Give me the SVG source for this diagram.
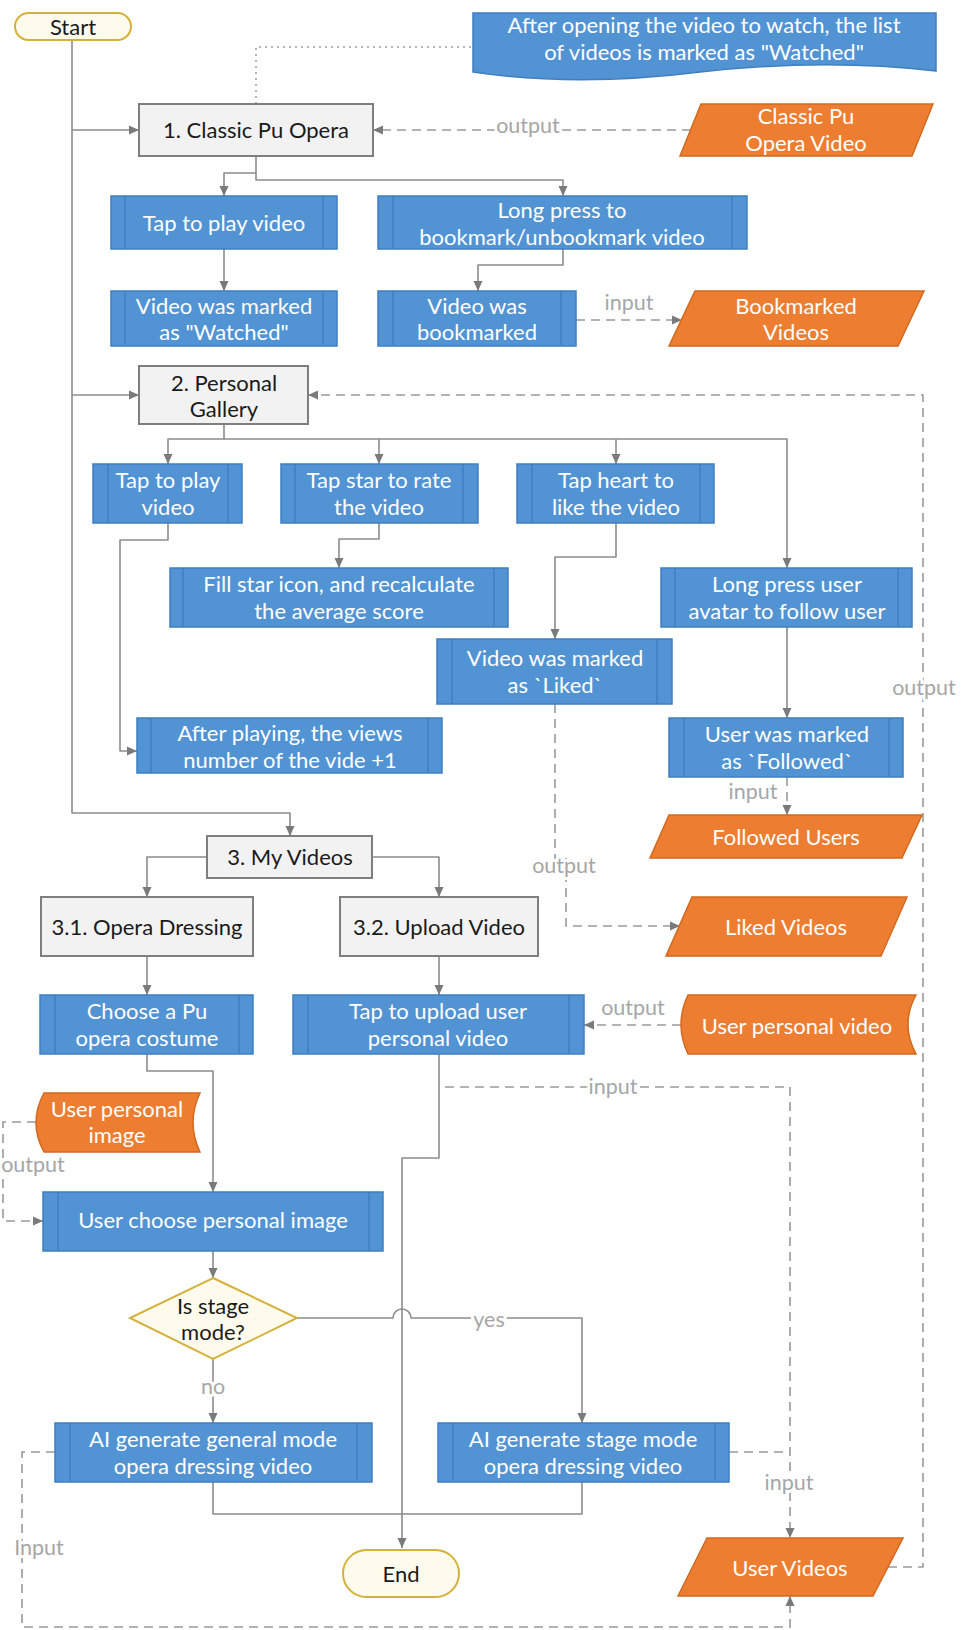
<svg xmlns="http://www.w3.org/2000/svg" width="968" height="1630" viewBox="0 0 968 1630">
<defs>
<style>
text{font-family:Lato,"Liberation Sans",sans-serif;font-size:22px;text-anchor:middle;dominant-baseline:central}
.w{fill:#ffffff}
.k{fill:#1a1a1a}
.lbl{fill:#a6a6a6;font-size:21.5px;stroke:#ffffff;stroke-width:6px;paint-order:stroke;stroke-linejoin:round}
.proc{fill:#5293d4;stroke:#3f7fc0;stroke-width:1.5}
.sub{stroke:#3f7fc0;stroke-width:1.5}
.gray{fill:#f2f2f2;stroke:#7f7f7f;stroke-width:2}
.data{fill:#ed7d31;stroke:#d2691f;stroke-width:1.5}
.term{fill:#fffbec;stroke:#d4b13c;stroke-width:2}
.c{fill:none;stroke:#8c8c8c;stroke-width:1.6;stroke-linejoin:round}
.d{fill:none;stroke:#9a9a9a;stroke-width:1.6;stroke-dasharray:9 6}
.dot{fill:none;stroke:#a0a0a0;stroke-width:1.6;stroke-dasharray:2 4}
</style>
<marker id="a" viewBox="0 0 10 10" refX="10" refY="5" markerWidth="10" markerHeight="10" markerUnits="userSpaceOnUse" orient="auto">
<path d="M0,0.5 L10,5 L0,9.5 Z" fill="#7a7a7a"/>
</marker>
</defs>
<rect width="968" height="1630" fill="#ffffff"/>

<g id="connectors">
<path class="dot" d="M256,104 V47 H473"/>
<path class="c" d="M72,40 V813 H290 V836" marker-end="url(#a)"/>
<path class="c" d="M72,130 H139" marker-end="url(#a)"/>
<path class="c" d="M72,395 H139" marker-end="url(#a)"/>
<path class="c" d="M256,156 V173 H224 V196" marker-end="url(#a)"/>
<path class="c" d="M256,173 V180 H563 V196" marker-end="url(#a)"/>
<path class="c" d="M224,249 V291" marker-end="url(#a)"/>
<path class="c" d="M563,249 V265 H478 V291" marker-end="url(#a)"/>
<path class="c" d="M224,424 V439 H168 V464" marker-end="url(#a)"/>
<path class="c" d="M224,439 H787 V568" marker-end="url(#a)"/>
<path class="c" d="M379,439 V464" marker-end="url(#a)"/>
<path class="c" d="M616,439 V464" marker-end="url(#a)"/>
<path class="c" d="M379,523 V539 H339 V568" marker-end="url(#a)"/>
<path class="c" d="M168,523 V540 H120 V751 H137" marker-end="url(#a)"/>
<path class="c" d="M616,523 V557 H555 V639" marker-end="url(#a)"/>
<path class="c" d="M787,627 V718" marker-end="url(#a)"/>
<path class="c" d="M207,857 H147 V897" marker-end="url(#a)"/>
<path class="c" d="M372,857 H439 V897" marker-end="url(#a)"/>
<path class="c" d="M147,956 V995" marker-end="url(#a)"/>
<path class="c" d="M439,956 V995" marker-end="url(#a)"/>
<path class="c" d="M147,1054 V1071 H213 V1192" marker-end="url(#a)"/>
<path class="c" d="M439,1054 V1158 H402 V1548" marker-end="url(#a)"/>
<path class="c" d="M213,1251 V1278" marker-end="url(#a)"/>
<path class="c" d="M213,1359 V1423" marker-end="url(#a)"/>
<path class="c" d="M297,1318 H393 A9,9 0 0 1 411,1318 H582 V1423" marker-end="url(#a)"/>
<path class="c" d="M213,1482 V1514 H582 V1482"/>

<path class="d" d="M691,130 H373" marker-end="url(#a)"/>
<path class="d" d="M576,320 H682" marker-end="url(#a)"/>
<path class="d" d="M787,777 V815" marker-end="url(#a)"/>
<path class="d" d="M555,704 V858 H566 V926 H680" marker-end="url(#a)"/>
<path class="d" d="M681,1025 H584" marker-end="url(#a)"/>
<path class="d" d="M445,1087 H790 V1538" marker-end="url(#a)"/>
<path class="d" d="M729,1452 H790"/>
<path class="d" d="M55,1452 H22 V1627 H790 V1596" marker-end="url(#a)"/>
<path class="d" d="M888,1567 H923 V395 H308" marker-end="url(#a)"/>
<path class="d" d="M36,1122 H3 V1221 H43" marker-end="url(#a)"/>

<text class="lbl" x="528" y="125">output</text>
<text class="lbl" x="629" y="302">input</text>
<text class="lbl" x="924" y="687">output</text>
<text class="lbl" x="753" y="791">input</text>
<text class="lbl" x="564" y="865">output</text>
<text class="lbl" x="633" y="1007">output</text>
<text class="lbl" x="613" y="1086">input</text>
<text class="lbl" x="33" y="1164">output</text>
<text class="lbl" x="489" y="1319">yes</text>
<text class="lbl" x="213" y="1386">no</text>
<text class="lbl" x="789" y="1482">input</text>
<text class="lbl" x="39" y="1547">Input</text>
</g>

<g id="start"><rect class="term" x="15" y="13" width="116" height="27" rx="13.5"/><text class="k" x="73" y="26">Start</text></g>

<g id="note"><path fill="#5293d4" stroke="#3f7fc0" stroke-width="1.5" d="M473,13 H936 V71 C860,62 780,63 700,72 C620,82 540,82 473,72 Z"/>
<text class="w"><tspan x="704" y="24">After opening the video to watch, the list</tspan><tspan x="704" y="50.5">of videos is marked as "Watched"</tspan></text></g>

<g id="classic"><rect class="gray" x="139" y="104" width="234" height="52"/><text class="k" x="256" y="129">1. Classic Pu Opera</text></g>

<g id="classic-video"><polygon class="data" points="701,104 933,104 912,156 680,156"/><text class="w"><tspan x="806" y="115.25">Classic Pu</tspan><tspan x="806" y="141.75">Opera Video</tspan></text></g>

<g id="tap-play-1"><rect class="proc" x="111" y="196" width="226" height="53"/><line class="sub" x1="125" y1="196" x2="125" y2="249"/><line class="sub" x1="323" y1="196" x2="323" y2="249"/><text class="w" x="224" y="222">Tap to play video</text></g>

<g id="watched"><rect class="proc" x="111" y="291" width="226" height="55"/><line class="sub" x1="125" y1="291" x2="125" y2="346"/><line class="sub" x1="323" y1="291" x2="323" y2="346"/><text class="w"><tspan x="224" y="304.75">Video was marked</tspan><tspan x="224" y="331.25">as "Watched"</tspan></text></g>

<g id="long-press"><rect class="proc" x="378" y="196" width="369" height="53"/><line class="sub" x1="393" y1="196" x2="393" y2="249"/><line class="sub" x1="732" y1="196" x2="732" y2="249"/><text class="w"><tspan x="562" y="209">Long press to</tspan><tspan x="562" y="235.5">bookmark/unbookmark video</tspan></text></g>

<g id="bookmarked"><rect class="proc" x="378" y="291" width="198" height="55"/><line class="sub" x1="393" y1="291" x2="393" y2="346"/><line class="sub" x1="561" y1="291" x2="561" y2="346"/><text class="w"><tspan x="477" y="304.75">Video was</tspan><tspan x="477" y="331.25">bookmarked</tspan></text></g>

<g id="bookmarked-videos"><polygon class="data" points="695,291 924,291 898,346 669,346"/><text class="w"><tspan x="796" y="304.75">Bookmarked</tspan><tspan x="796" y="331.25">Videos</tspan></text></g>

<g id="gallery"><rect class="gray" x="139" y="366" width="169" height="58"/><text class="k"><tspan x="224" y="381.75">2. Personal</tspan><tspan x="224" y="408.25">Gallery</tspan></text></g>

<g id="tap-play-2"><rect class="proc" x="93" y="464" width="149" height="59"/><line class="sub" x1="108" y1="464" x2="108" y2="523"/><line class="sub" x1="228" y1="464" x2="228" y2="523"/><text class="w"><tspan x="168" y="479.25">Tap to play</tspan><tspan x="168" y="505.75">video</tspan></text></g>

<g id="tap-star"><rect class="proc" x="281" y="464" width="197" height="59"/><line class="sub" x1="295" y1="464" x2="295" y2="523"/><line class="sub" x1="463" y1="464" x2="463" y2="523"/><text class="w"><tspan x="379" y="479.25">Tap star to rate</tspan><tspan x="379" y="505.75">the video</tspan></text></g>

<g id="tap-heart"><rect class="proc" x="517" y="464" width="197" height="59"/><line class="sub" x1="532" y1="464" x2="532" y2="523"/><line class="sub" x1="700" y1="464" x2="700" y2="523"/><text class="w"><tspan x="616" y="479.25">Tap heart to</tspan><tspan x="616" y="505.75">like the video</tspan></text></g>

<g id="fill-star"><rect class="proc" x="170" y="568" width="338" height="59"/><line class="sub" x1="183" y1="568" x2="183" y2="627"/><line class="sub" x1="494" y1="568" x2="494" y2="627"/><text class="w"><tspan x="339" y="583.25">Fill star icon, and recalculate</tspan><tspan x="339" y="609.75">the average score</tspan></text></g>

<g id="long-press-user"><rect class="proc" x="661" y="568" width="251" height="59"/><line class="sub" x1="675" y1="568" x2="675" y2="627"/><line class="sub" x1="898" y1="568" x2="898" y2="627"/><text class="w"><tspan x="787" y="583.25">Long press user</tspan><tspan x="787" y="609.75">avatar to follow user</tspan></text></g>

<g id="liked"><rect class="proc" x="437" y="639" width="235" height="65"/><line class="sub" x1="452" y1="639" x2="452" y2="704"/><line class="sub" x1="657" y1="639" x2="657" y2="704"/><text class="w"><tspan x="555" y="657.25">Video was marked</tspan><tspan x="555" y="683.75">as `Liked`</tspan></text></g>

<g id="after-playing"><rect class="proc" x="137" y="718" width="305" height="55"/><line class="sub" x1="151" y1="718" x2="151" y2="773"/><line class="sub" x1="428" y1="718" x2="428" y2="773"/><text class="w"><tspan x="290" y="732.25">After playing, the views</tspan><tspan x="290" y="758.75">number of the vide +1</tspan></text></g>

<g id="followed"><rect class="proc" x="669" y="718" width="234" height="59"/><line class="sub" x1="684" y1="718" x2="684" y2="777"/><line class="sub" x1="889" y1="718" x2="889" y2="777"/><text class="w"><tspan x="787" y="733.25">User was marked</tspan><tspan x="787" y="759.75">as `Followed`</tspan></text></g>

<g id="followed-users"><polygon class="data" points="669,815 922,815 902,858 650,858"/><text class="w" x="786" y="836">Followed Users</text></g>

<g id="liked-videos"><polygon class="data" points="692,897 907,897 881,956 666,956"/><text class="w" x="786" y="926">Liked Videos</text></g>

<g id="my-videos"><rect class="gray" x="207" y="836" width="165" height="42"/><text class="k" x="290" y="856">3. My Videos</text></g>

<g id="opera-dressing"><rect class="gray" x="41" y="897" width="212" height="59"/><text class="k" x="147" y="926">3.1. Opera Dressing</text></g>

<g id="upload-video"><rect class="gray" x="340" y="897" width="198" height="59"/><text class="k" x="439" y="926">3.2. Upload Video</text></g>

<g id="choose-costume"><rect class="proc" x="40" y="995" width="213" height="59"/><line class="sub" x1="55" y1="995" x2="55" y2="1054"/><line class="sub" x1="239" y1="995" x2="239" y2="1054"/><text class="w"><tspan x="147" y="1010.25">Choose a Pu</tspan><tspan x="147" y="1036.75">opera costume</tspan></text></g>

<g id="tap-upload"><rect class="proc" x="293" y="995" width="291" height="59"/><line class="sub" x1="308" y1="995" x2="308" y2="1054"/><line class="sub" x1="569" y1="995" x2="569" y2="1054"/><text class="w"><tspan x="438" y="1010.25">Tap to upload user</tspan><tspan x="438" y="1036.75">personal video</tspan></text></g>

<g id="user-personal-video"><path class="data" d="M688,995 H916 Q900,1024.5 916,1054 H688 Q674,1024.5 688,995 Z"/><text class="w" x="797" y="1025">User personal video</text></g>

<g id="user-personal-image"><path class="data" d="M44,1093 H200 Q186,1122.5 200,1152 H44 Q28,1122.5 44,1093 Z"/><text class="w"><tspan x="117" y="1107.5">User personal</tspan><tspan x="117" y="1134">image</tspan></text></g>

<g id="choose-image"><rect class="proc" x="43" y="1192" width="340" height="59"/><line class="sub" x1="58" y1="1192" x2="58" y2="1251"/><line class="sub" x1="369" y1="1192" x2="369" y2="1251"/><text class="w" x="213" y="1219">User choose personal image</text></g>

<g id="stage-mode"><polygon class="term" points="213,1278 297,1318 213,1359 130,1318"/><text class="k"><tspan x="213" y="1304.5">Is stage</tspan><tspan x="213" y="1331">mode?</tspan></text></g>

<g id="ai-general"><rect class="proc" x="55" y="1423" width="317" height="59"/><line class="sub" x1="70" y1="1423" x2="70" y2="1482"/><line class="sub" x1="357" y1="1423" x2="357" y2="1482"/><text class="w"><tspan x="213" y="1438.25">AI generate general mode</tspan><tspan x="213" y="1464.75">opera dressing video</tspan></text></g>

<g id="ai-stage"><rect class="proc" x="438" y="1423" width="291" height="59"/><line class="sub" x1="453" y1="1423" x2="453" y2="1482"/><line class="sub" x1="715" y1="1423" x2="715" y2="1482"/><text class="w"><tspan x="583" y="1438.25">AI generate stage mode</tspan><tspan x="583" y="1464.75">opera dressing video</tspan></text></g>

<g id="end"><rect class="term" x="343" y="1550" width="116" height="47" rx="23.5"/><text class="k" x="401" y="1573">End</text></g>

<g id="user-videos"><polygon class="data" points="707,1538 903,1538 873,1596 678,1596"/><text class="w" x="790" y="1567">User Videos</text></g>
</svg>
